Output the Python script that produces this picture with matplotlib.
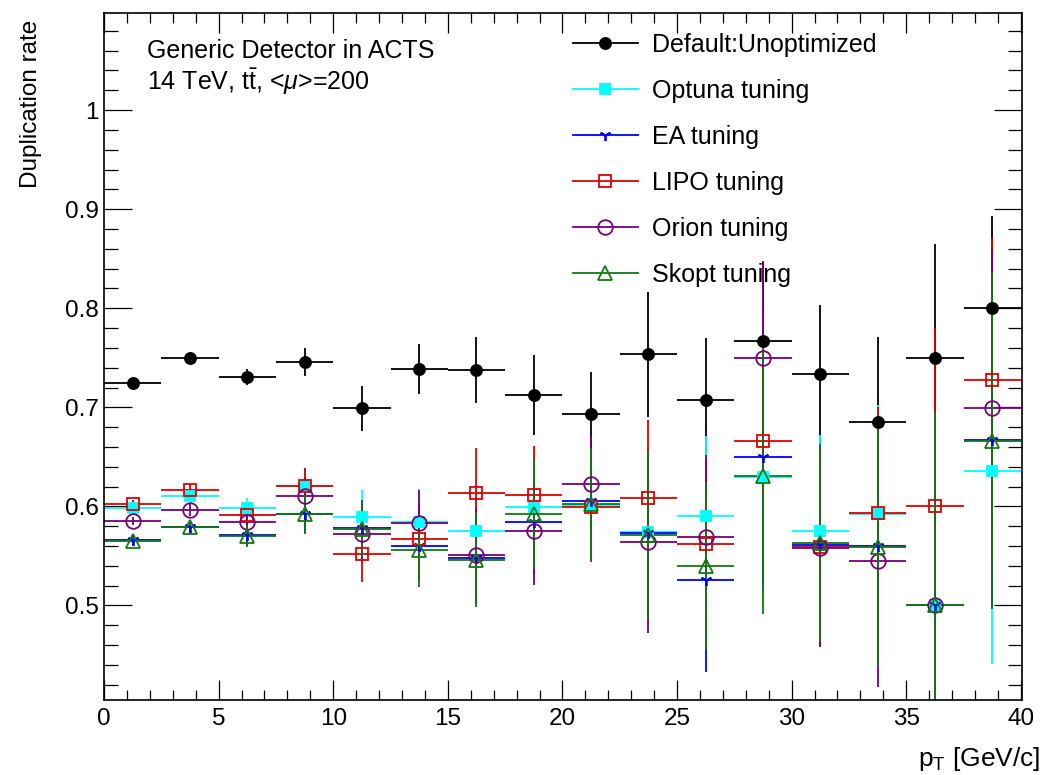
import matplotlib
matplotlib.use("Agg")
import matplotlib.pyplot as plt
from matplotlib.lines import Line2D
from matplotlib.ticker import MultipleLocator, FixedLocator, FixedFormatter

plt.rcParams["font.family"] = "Liberation Sans"
plt.rcParams["mathtext.fontset"] = "custom"
plt.rcParams["mathtext.rm"] = "Liberation Sans"
plt.rcParams["mathtext.it"] = "Liberation Sans:italic"

# pT bins (2.5 GeV wide)
pt_centers = [1.25, 3.75, 6.25, 8.75, 11.25, 13.75, 16.25, 18.75,
              21.25, 23.75, 26.25, 28.75, 31.25, 33.75, 36.25, 38.75]
pt_halfwidth = 1.25

default_rate = [0.725, 0.7495, 0.731, 0.7455, 0.699, 0.7387, 0.7376, 0.7124,
                0.693, 0.7537, 0.7074, 0.767, 0.7333, 0.6855, 0.750, 0.800]
default_err = [0.002, 0.003, 0.008, 0.014, 0.0225, 0.025, 0.033, 0.040,
               0.043, 0.063, 0.063, 0.080, 0.070, 0.085, 0.115, 0.093]

optuna_rate = [0.598, 0.611, 0.5987, 0.6205, 0.5896, 0.584, 0.5755, 0.5997,
               0.601, 0.5739, 0.5906, 0.630, 0.5755, 0.5925, 0.500, 0.636]
optuna_err = [0.004, 0.006, 0.010, 0.018, 0.027, 0.034, 0.045, 0.050,
              0.050, 0.080, 0.080, 0.130, 0.097, 0.110, 0.180, 0.195]

ea_rate = [0.566, 0.5795, 0.571, 0.592, 0.5785, 0.560, 0.5476, 0.584,
           0.605, 0.5729, 0.526, 0.6498, 0.561, 0.560, 0.500, 0.667]
ea_err = [0.004, 0.006, 0.011, 0.019, 0.028, 0.035, 0.046, 0.053,
          0.055, 0.085, 0.093, 0.130, 0.100, 0.120, 0.190, 0.170]

lipo_rate = [0.602, 0.6166, 0.5913, 0.621, 0.5523, 0.5668, 0.6135, 0.6112,
             0.599, 0.6085, 0.562, 0.6663, 0.559, 0.593, 0.600, 0.7273]
lipo_err = [0.004, 0.006, 0.011, 0.018, 0.029, 0.036, 0.045, 0.050,
            0.055, 0.079, 0.085, 0.130, 0.100, 0.107, 0.180, 0.144]

orion_rate = [0.5856, 0.5964, 0.5846, 0.610, 0.572, 0.583, 0.551, 0.5755,
              0.623, 0.5638, 0.5688, 0.750, 0.558, 0.5452, 0.500, 0.6996]
orion_err = [0.004, 0.006, 0.011, 0.019, 0.028, 0.034, 0.046, 0.055,
             0.049, 0.092, 0.083, 0.098, 0.100, 0.127, 0.190, 0.159]

skopt_rate = [0.565, 0.5795, 0.5698, 0.592, 0.5775, 0.5557, 0.546, 0.592,
              0.602, 0.5715, 0.540, 0.631, 0.563, 0.5594, 0.500, 0.6663]
skopt_err = [0.004, 0.006, 0.011, 0.020, 0.029, 0.037, 0.048, 0.055,
             0.057, 0.084, 0.085, 0.140, 0.100, 0.120, 0.195, 0.170]

y_ticks = [0.5, 0.6, 0.7, 0.8, 0.9, 1.0]
y_ticklabels = ["0.5", "0.6", "0.7", "0.8", "0.9", "1"]

series = [
    ("Default:Unoptimized", default_rate, default_err,
     dict(color="black", marker="o", ms=8, mfc="black")),
    ("Optuna tuning", optuna_rate, optuna_err,
     dict(color="#00ffff", marker="s", ms=7.5, mfc="#00ffff")),
    ("EA tuning", ea_rate, ea_err,
     dict(color="#0000ff", marker=(3, 2, 180), ms=8, mfc="#0000ff")),
    ("LIPO tuning", lipo_rate, lipo_err,
     dict(color="#e00000", marker="s", ms=8, mfc="none")),
    ("Orion tuning", orion_rate, orion_err,
     dict(color="#7a007a", marker="o", ms=10.5, mfc="none")),
    ("Skopt tuning", skopt_rate, skopt_err,
     dict(color="#137813", marker="^", ms=10.5, mfc="none")),
]

fig = plt.figure(figsize=(10.41, 7.75), dpi=100)
ax = fig.add_axes([104 / 1041, 75 / 775, 918 / 1041, 687 / 775])

handles = []
for label, rate, err, st in series:
    ax.errorbar(pt_centers, rate, xerr=pt_halfwidth, yerr=err,
                marker=st["marker"], color=st["color"], mec=st["color"],
                mfc=st["mfc"], ms=st["ms"], mew=1.3, elinewidth=1.3,
                capsize=0, linestyle="none")
    handles.append(Line2D([], [], color=st["color"], marker=st["marker"],
                          ms=st["ms"], mfc=st["mfc"], mec=st["color"],
                          mew=1.3, lw=1.3))

ax.set_xlim(0, 40.05)
ax.set_ylim(0.4046, 1.098)

ax.xaxis.set_major_locator(MultipleLocator(5))
ax.xaxis.set_minor_locator(MultipleLocator(1))
ax.yaxis.set_major_locator(FixedLocator(y_ticks))
ax.yaxis.set_major_formatter(FixedFormatter(y_ticklabels))
ax.yaxis.set_minor_locator(MultipleLocator(0.02))

ax.tick_params(which="both", direction="in", top=True, right=True,
               width=0.9, labelsize=17.5)
ax.tick_params(axis="x", which="major", length=14.4, pad=6)
ax.tick_params(axis="x", which="minor", length=7.2)
ax.tick_params(axis="y", which="major", length=20, pad=4)
ax.tick_params(axis="y", which="minor", length=10)
for sp in ax.spines.values():
    sp.set_linewidth(1.2)

ax.set_ylabel("Duplication rate", fontsize=17.5, loc="top")
ax.yaxis.set_label_coords(-0.068, 0.99)
ax.set_xlabel(r"p$_{\mathrm{T}}$ [GeV/c]", fontsize=19, loc="right")
ax.xaxis.set_label_coords(1.0196, -0.0655)

fig.text(147 / 1041, 1 - 58.3 / 775, "Generic Detector in ACTS",
         fontsize=18, va="baseline")
fig.text(147 / 1041, 1 - 90 / 775,
         r"14 TeV, t$\bar{\mathrm{t}}$, <$\mu$>=200",
         fontsize=18, va="baseline")

ax.legend(handles, [s[0] for s in series], loc="upper left",
          bbox_to_anchor=(572.7 / 1041, 1 - 33 / 775),
          bbox_transform=fig.transFigure, frameon=False, fontsize=18,
          handlelength=2.6, handletextpad=0.56, labelspacing=0.88,
          borderpad=0, borderaxespad=0)

fig.savefig("out.png", dpi=100)
